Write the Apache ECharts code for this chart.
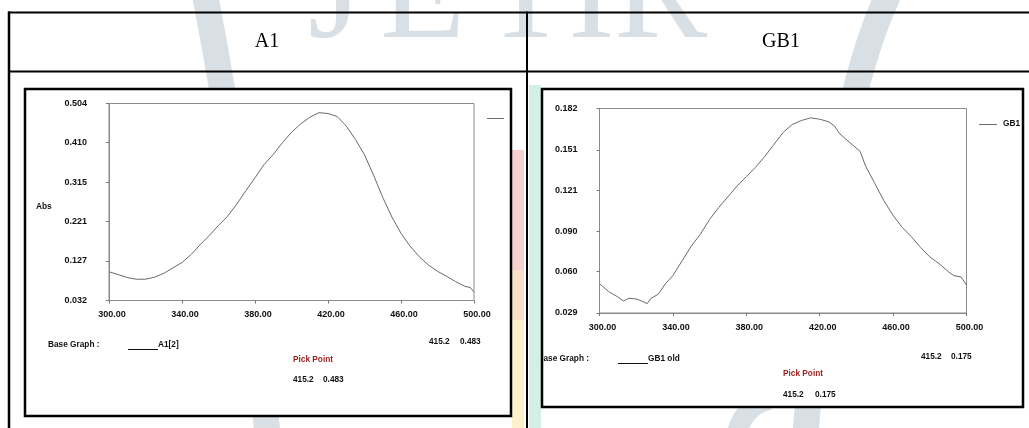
<!DOCTYPE html>
<html><head><meta charset="utf-8">
<script src="https://cdn.jsdelivr.net/npm/echarts@6/dist/echarts.min.js"></script>
<style>html,body{margin:0;padding:0;background:#fff}#c{width:1029px;height:428px}</style>
</head><body><div id="c"></div>
<script>
// ---- data ----
const headers = ['A1', 'GB1'];
const xTicks = [300, 340, 380, 420, 460, 500];
const yTicksA1 = [0.032, 0.127, 0.221, 0.315, 0.410, 0.504];
const yTicksGB1 = [0.029, 0.060, 0.090, 0.121, 0.151, 0.182];

const wavelengthsA1 = [300,305,310,315,320,325,330,335,340,345,350,355,360,365,370,375,380,385,390,395,400,405,410,415,420,425,430,435,440,445,450,455,460,465,470,475,480,485,490,495,498,500];
const absA1 = [0.101,0.094,0.087,0.083,0.083,0.088,0.097,0.110,0.123,0.142,0.166,0.188,0.212,0.234,0.263,0.295,0.326,0.358,0.382,0.410,0.435,0.455,0.471,0.482,0.480,0.473,0.450,0.418,0.381,0.332,0.279,0.232,0.193,0.162,0.137,0.117,0.102,0.090,0.077,0.066,0.063,0.052];

const wavelengthsGB1 = [300,305,310,313,316,320,323,326,328,332,336,340,345,350,355,360,365,370,375,380,385,390,395,400,405,410,415,420,425,428,431,436,442,445,450,455,460,465,470,475,480,485,490,493,497,500];
const absGB1 = [0.051,0.045,0.041,0.038,0.040,0.0395,0.038,0.036,0.040,0.043,0.051,0.057,0.068,0.079,0.088,0.099,0.108,0.116,0.124,0.131,0.138,0.146,0.155,0.164,0.170,0.173,0.175,0.174,0.172,0.169,0.163,0.157,0.150,0.139,0.126,0.113,0.102,0.093,0.086,0.078,0.071,0.066,0.060,0.057,0.056,0.050];

const baseGraphNames = ['A1[2]', 'GB1 old'];
const pickWavelength = ['415.2', '415.2'];
const pickAbs = ['0.483', '0.175'];
const yAxisName = 'Abs';
const watermarkLetters = ['J', 'E', 'T', 'I', 'R'];

// ---- chart ----
const chart = echarts.init(document.getElementById('c'), null, {renderer: 'canvas'});
const F = "'Liberation Sans',Arial,sans-serif";
const lbl = {fontFamily: F, fontWeight: 'bold', fontSize: 9, color: '#111'};
const lineCol = '#6a6a6a';
const wm = '#d8e0e5';

function pairs(xs, ys) { return xs.map((x, i) => [x, ys[i]]); }

function xAxisCfg(gi) {
  return {
    type: 'value', gridIndex: gi, min: 300, max: 500, z: 6,
    axisLine: {show: true, lineStyle: {color: '#8a8a8a', width: 1}},
    axisTick: {show: true, length: 3, customValues: xTicks, lineStyle: {color: '#777'}},
    axisLabel: Object.assign({customValues: xTicks, margin: 10, padding: [0, 0, 0, 6], formatter: v => v.toFixed(2)}, lbl),
    splitLine: {show: false}
  };
}
function yAxisCfg(gi, ticks) {
  return {
    type: 'value', gridIndex: gi, min: ticks[0], max: ticks[ticks.length - 1], z: 6,
    axisLine: {show: true, lineStyle: {color: '#8a8a8a', width: 1}},
    axisTick: {show: true, length: 3, customValues: ticks, lineStyle: {color: '#777'}},
    axisLabel: Object.assign({customValues: ticks, margin: 22, formatter: v => v.toFixed(3), padding: [0, 0, 4, 0]}, lbl),
    splitLine: {show: false}
  };
}

const g = [];
// watermark (faint logo behind the table)
const wmX = [308, 380, 483, 568, 614];
watermarkLetters.forEach((ch, i) => {
  g.push({type: 'text', z: 0, x: wmX[i], y: 0, style: {text: ch, fontFamily: "'Liberation Serif',serif", fontSize: 140, fill: wm, verticalAlign: 'middle'}});
});
const B = (x1, y1, cx, cy, x2, y2, w) => ({type: 'bezierCurve', z: 0, shape: {x1, y1, cpx1: cx, cpy1: cy, x2, y2}, style: {fill: 'none', stroke: wm, lineWidth: w}});
g.push(B(205, -5, 245, 200, 268, 440, 26));
g.push(B(888, -5, 830, 120, 805, 440, 26));
g.push(B(735, 440, 742, 405, 770, 400, 20));
g.push({type: 'rect', z: 0, shape: {x: 512, y: 150, width: 12, height: 120}, style: {fill: '#f7d0d0'}});
g.push({type: 'rect', z: 0, shape: {x: 512, y: 270, width: 12, height: 50}, style: {fill: '#f9e0c8'}});
g.push({type: 'rect', z: 0, shape: {x: 512, y: 320, width: 12, height: 108}, style: {fill: '#fbf2cc'}});

// table lines
const T = (x1, y1, x2, y2, w) => ({type: 'line', z: 5, shape: {x1, y1, x2, y2}, style: {stroke: '#000', lineWidth: w}});
g.push(T(8, 12.5, 1029, 12.5, 2));
g.push(T(8, 71.5, 1029, 71.5, 2));
g.push(T(9, 11.5, 9, 428, 2.5));
g.push(T(527, 11.5, 527, 428, 2));
// header text
g.push({type: 'text', z: 6, x: 267, y: 42, style: {text: headers[0], fontFamily: "'Liberation Serif',serif", fontSize: 20, fill: '#000', align: 'center', verticalAlign: 'middle'}});
g.push({type: 'text', z: 6, x: 781, y: 42, style: {text: headers[1], fontFamily: "'Liberation Serif',serif", fontSize: 20, fill: '#000', align: 'center', verticalAlign: 'middle'}});

// inner boxes (screenshot frames) - opaque
g.push({type: 'rect', z: 1, shape: {x: 25, y: 89, width: 486, height: 327}, style: {fill: '#fff'}});
g.push({type: 'rect', z: 1, shape: {x: 542, y: 89, width: 481, height: 318}, style: {fill: '#fff'}});

const TX = (x, y, text, extra) => ({type: 'text', z: 10, x, y, scaleX: 0.92, style: Object.assign({text, fontFamily: F, fontWeight: 'bold', fontSize: 9, fill: '#111', verticalAlign: 'middle'}, extra || {})});

// left panel texts
g.push(TX(36, 207, yAxisName));
g.push(TX(48, 345, 'Base Graph :'));
g.push({type: 'line', z: 10, shape: {x1: 128, y1: 349.5, x2: 158, y2: 349.5}, style: {stroke: '#111', lineWidth: 1}});
g.push(TX(158, 345, baseGraphNames[0]));
g.push(TX(429, 342, pickWavelength[0]));
g.push(TX(460, 342, pickAbs[0]));
g.push(TX(293, 360, 'Pick Point', {fill: '#9b1c1c'}));
g.push(TX(293, 380, pickWavelength[0]));
g.push(TX(323, 380, pickAbs[0]));
g.push({type: 'line', z: 10, shape: {x1: 487, y1: 118.5, x2: 504, y2: 118.5}, style: {stroke: lineCol, lineWidth: 1}});

// right panel texts
g.push(TX(537.5, 359, 'Base Graph :'));
g.push({type: 'line', z: 10, shape: {x1: 618, y1: 363.5, x2: 648, y2: 363.5}, style: {stroke: '#111', lineWidth: 1}});
g.push(TX(648, 359, baseGraphNames[1]));
g.push(TX(921, 357, pickWavelength[1]));
g.push(TX(951, 357, pickAbs[1]));
g.push(TX(783, 374, 'Pick Point', {fill: '#9b1c1c'}));
g.push(TX(783, 395, pickWavelength[1]));
g.push(TX(815, 395, pickAbs[1]));
g.push({type: 'line', z: 10, shape: {x1: 979, y1: 124.5, x2: 997, y2: 124.5}, style: {stroke: lineCol, lineWidth: 1}});
g.push(TX(1003, 124, 'GB1 old'));
// hide text overflowing the right frame (screenshot is cropped)
g.push({type: 'rect', z: 11, shape: {x: 1023, y: 89, width: 6, height: 320}, style: {fill: '#fff'}});
g.push({type: 'rect', z: 11, shape: {x: 528.5, y: 340, width: 13.5, height: 30}, style: {fill: '#fff'}});
g.push({type: 'rect', z: 11, shape: {x: 529, y: 85, width: 12, height: 343}, style: {fill: '#d3efe6'}});

// frame borders
g.push({type: 'rect', z: 12, shape: {x: 25, y: 89, width: 486, height: 327}, style: {fill: 'none', stroke: '#000', lineWidth: 2.5}});
g.push({type: 'rect', z: 12, shape: {x: 542, y: 89, width: 481, height: 318}, style: {fill: 'none', stroke: '#000', lineWidth: 2.5}});

chart.setOption({
  animation: false,
  backgroundColor: '#fff',
  grid: [
    {left: 109, top: 103.5, width: 365, height: 197, show: true, borderColor: '#8a8a8a', borderWidth: 1, backgroundColor: 'transparent', z: 3},
    {left: 599.5, top: 108.5, width: 367, height: 204.5, show: true, borderColor: '#8a8a8a', borderWidth: 1, backgroundColor: 'transparent', z: 3}
  ],
  xAxis: [xAxisCfg(0), xAxisCfg(1)],
  yAxis: [yAxisCfg(0, yTicksA1), yAxisCfg(1, yTicksGB1)],
  series: [
    {type: 'line', xAxisIndex: 0, yAxisIndex: 0, data: pairs(wavelengthsA1, absA1), showSymbol: false, lineStyle: {color: lineCol, width: 1}, z: 4},
    {type: 'line', xAxisIndex: 1, yAxisIndex: 1, data: pairs(wavelengthsGB1, absGB1), showSymbol: false, lineStyle: {color: lineCol, width: 1}, z: 4}
  ],
  graphic: {elements: g}
});
</script></body></html>
